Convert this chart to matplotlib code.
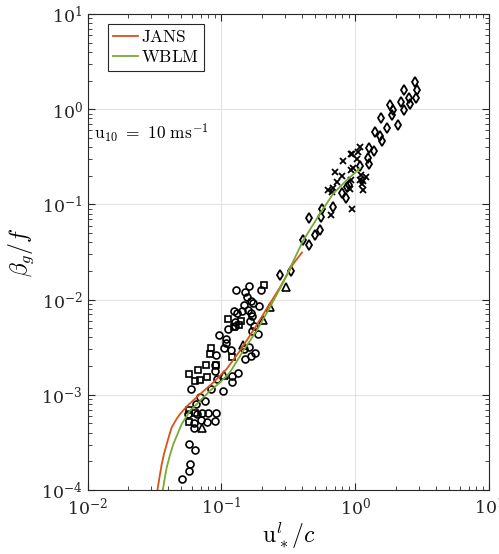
import matplotlib
matplotlib.use("Agg")
import matplotlib.pyplot as plt
import numpy as np

plt.rcParams['font.family'] = ['DejaVu Serif']
plt.rcParams['mathtext.fontset'] = 'cm'

# values, given as log10(u*/c), log10(beta_g/f)
circ_lx = [-0.892, -0.792, -0.822, -0.705, -0.810, -0.782, -0.763, -0.830, -0.904, -0.884,
           -0.849, -0.802, -0.782, -0.772, -0.718, -0.901, -0.951, -0.897, -0.785, -0.757,
           -0.770, -0.730, -1.021, -0.966, -0.966, -0.981, -0.929, -1.039, -1.046, -1.046,
           -1.036, -1.081, -0.987, -0.919, -0.919, -0.879, -0.822, -0.780, -0.748, -0.795,
           -0.830, -1.230, -1.158, -1.188, -1.121, -1.250, -1.185, -1.143, -1.103, -1.039,
           -1.151, -1.106, -1.046, -1.205, -1.207, -1.245, -1.200, -1.235, -1.245, -1.293]
circ_ly = [-1.895, -1.853, -1.919, -1.895, -1.976, -2.011, -2.035, -2.056, -2.116, -2.144,
           -2.116, -2.108, -2.140, -2.172, -2.071, -2.232, -2.308, -2.277, -2.224, -2.274,
           -2.326, -2.358, -2.372, -2.414, -2.456, -2.509, -2.529, -2.582, -2.687, -2.747,
           -2.832, -2.940, -2.965, -2.863, -2.807, -2.772, -2.624, -2.593, -2.558, -2.502,
           -2.523, -2.940, -3.018, -3.095, -3.066, -3.203, -3.197, -3.193, -3.189, -3.193,
           -3.266, -3.287, -3.274, -3.295, -3.351, -3.513, -3.576, -3.723, -3.797, -3.881]

sq_lx = [-0.683, -0.949, -0.907, -0.872, -0.857, -1.081, -1.084, -1.118, -1.173,
         -1.240, -1.196, -1.160, -1.108, -1.043, -0.924, -1.240, -1.198, -1.245]
sq_ly = [-1.849, -2.200, -2.287, -2.263, -2.224, -2.509, -2.572, -2.687, -2.744,
         -2.786, -2.860, -2.845, -2.818, -2.684, -2.600, -3.161, -3.193, -3.281]

tri_lx = [-1.148, -0.979, -0.837, -0.693, -0.640, -0.521]
tri_ly = [-3.347, -2.793, -2.474, -2.214, -2.081, -1.863]

dia_lx = [-0.561, -0.481, -0.390, -0.347, -0.349, -0.300, -0.265, -0.250, -0.257, -0.166,
          0.442, 0.461, 0.456, 0.362, 0.397, 0.405, 0.342, 0.360, 0.260, 0.280,
          0.272, 0.319, 0.193, 0.233, 0.143, 0.183, 0.200, 0.099, 0.138, 0.093,
          0.099, 0.034, -0.066, -0.101, -0.073, -0.045]
dia_ly = [-1.737, -1.695, -1.372, -1.424, -1.140, -1.323, -1.271, -1.053, -1.130, -1.028,
          0.284, 0.207, 0.113, 0.203, 0.113, 0.060, 0.071, -0.003, 0.049, -0.007,
          -0.063, -0.161, -0.095, -0.193, -0.239, -0.284, -0.334, -0.407, -0.442, -0.508,
          -0.572, -0.597, -0.818, -0.877, -0.934, -0.800]

crs_lx = [0.034, 0.016, -0.024, 0.011, -0.091, -0.036, -0.019, -0.151, -0.099, 0.078,
          0.041, 0.036, 0.046, -0.034, -0.140, -0.203, -0.166, -0.175, -0.041, 0.058,
          -0.185, -0.024, -0.031, 0.058]
crs_ly = [-0.397, -0.449, -0.474, -0.526, -0.547, -0.635, -0.618, -0.660, -0.702, -0.713,
          -0.687, -0.747, -0.782, -0.740, -0.765, -0.845, -0.828, -0.871, -0.835, -0.845,
          -1.116, -1.053, -0.466, -0.758]

jans_lx = [-1.479, -1.462, -1.446, -1.428, -1.409, -1.390, -1.372, -1.340, -1.310, -1.255,
           -1.160, -1.061, -0.961, -0.862, -0.763, -0.663, -0.563, -0.464, -0.399]
jans_ly = [-4.011, -3.860, -3.729, -3.615, -3.519, -3.425, -3.344, -3.265, -3.203, -3.116,
           -2.993, -2.871, -2.729, -2.537, -2.326, -2.098, -1.871, -1.624, -1.505]

wblm_lx = [-1.439, -1.424, -1.409, -1.385, -1.360, -1.297, -1.235, -1.160, -1.086, -1.011,
           -0.937, -0.837, -0.737, -0.638, -0.539, -0.390, -0.265, -0.166, -0.066, 0.034]
wblm_ly = [-4.011, -3.880, -3.765, -3.635, -3.519, -3.308, -3.168, -3.063, -2.958, -2.871,
           -2.765, -2.537, -2.326, -2.081, -1.818, -1.379, -1.098, -0.887, -0.747, -0.621]


def p10(a):
    return 10 ** np.array(a)


fig = plt.figure(figsize=(4.99, 5.54), dpi=100)
ax = fig.add_axes([0.1754, 0.1155, 0.8052, 0.8592])

mk = dict(linestyle='none', markerfacecolor='none', markeredgecolor='k', color='k')
ax.plot(p10(circ_lx), p10(circ_ly), marker='o', markersize=5, markeredgewidth=1.2, **mk)
ax.plot(p10(sq_lx), p10(sq_ly), marker='s', markersize=4.2, markeredgewidth=1.2, **mk)
ax.plot(p10(tri_lx), p10(tri_ly), marker='^', markersize=5.5, markeredgewidth=1.2, **mk)
ax.plot(p10(dia_lx), p10(dia_ly), marker='d', markersize=5.2, markeredgewidth=1.3, **mk)
ax.plot(p10(crs_lx), p10(crs_ly), marker='x', markersize=3.8, markeredgewidth=1.3, **mk)

ax.plot(p10(jans_lx), p10(jans_ly), color='#D95319', lw=1.3, label=r'$\mathrm{JANS}$')
ax.plot(p10(wblm_lx), p10(wblm_ly), color='#77AC30', lw=1.3, label=r'$\mathrm{WBLM}$')

ax.set_xscale('log')
ax.set_yscale('log')
ax.set_xlim(1e-2, 1e1)
ax.set_ylim(1e-4, 1e1)

ax.grid(True, which='major', color='#e3e3e3', lw=0.8)
ax.set_axisbelow(True)
ax.tick_params(which='both', direction='in', top=True, right=True, colors='#262626',
               labelsize=12.5)
ax.tick_params(which='major', length=5, width=0.8)
ax.tick_params(which='minor', length=3, width=0.6)
ax.tick_params(axis='x', which='major', pad=5)
for s in ax.spines.values():
    s.set_color('#262626')
    s.set_linewidth(0.8)

ax.set_xlabel(r'$\mathrm{u}_*^l/c$', fontsize=17, labelpad=1)
ax.set_ylabel(r'$\beta_g/f$', fontsize=17, labelpad=4)

ax.text(0.016, 0.75, r'$\mathrm{u_{10}\ =\ 10\ ms^{-1}}$', transform=ax.transAxes,
        fontsize=12.5, va='center', ha='left')

leg = ax.legend(loc='upper left', bbox_to_anchor=(0.051, 0.979), borderaxespad=0,
                fontsize=12.5, fancybox=False, edgecolor='#262626', framealpha=1,
                handlelength=1.45, handletextpad=0.15, borderpad=0.3, labelspacing=0.15)
leg.get_frame().set_linewidth(0.8)

fig.savefig('out.png', dpi=100)
